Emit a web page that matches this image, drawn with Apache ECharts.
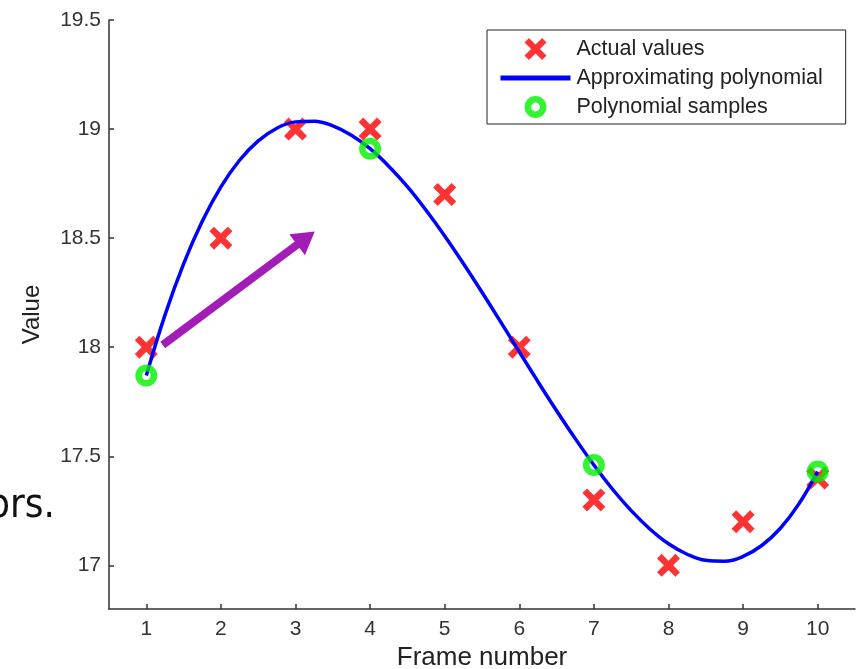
<!DOCTYPE html>
<html>
<head>
<meta charset="utf-8">
<script src="https://cdn.jsdelivr.net/npm/echarts@6/dist/echarts.min.js"></script>
<style>
  html, body { margin: 0; padding: 0; background: #fff; }
  #chart { width: 858px; height: 669px; }
</style>
</head>
<body>
<div id="chart"></div>
<script>
// frame numbers and actual values (red crosses)
var frames = [1, 2, 3, 4, 5, 6, 7, 8, 9, 10];
var actualValues = [18.0, 18.5, 19.0, 19.0, 18.7, 18.0, 17.3, 17.0, 17.2, 17.4];
// approximating polynomial, every quarter frame
var polyX = [1, 1.25, 1.5, 1.75, 2, 2.25, 2.5, 2.75, 3, 3.25, 3.5, 3.75, 4, 4.25, 4.5, 4.75, 5, 5.25, 5.5,
             5.75, 6, 6.25, 6.5, 6.75, 7, 7.25, 7.5, 7.75, 8, 8.25, 8.5, 8.75, 9, 9.25, 9.5, 9.75, 10];
var polyY = [17.870, 18.147, 18.382, 18.577, 18.735, 18.857, 18.946, 19.004, 19.033, 19.036, 19.015,
             18.972, 18.910, 18.830, 18.736, 18.628, 18.510, 18.384, 18.252, 18.116, 17.979, 17.842,
             17.709, 17.581, 17.460, 17.349, 17.251, 17.167, 17.099, 17.051, 17.023, 17.019, 17.041,
             17.091, 17.170, 17.283, 17.430];
// polynomial samples (green rings)
var sampleX = [1, 4, 7, 10];
var sampleY = [17.87, 18.91, 17.46, 17.43];
// tick labels
var xTicks = [1, 2, 3, 4, 5, 6, 7, 8, 9, 10];
var yTicks = [17, 17.5, 18, 18.5, 19, 19.5];
// purple arrow (data coords)
var arrowFrom = [1.22, 18.01];
var arrowTo = [3.14, 18.5];

var font = 'Liberation Sans';
var crossPath = 'path://M2,0 L5,3 L8,0 L10,2 L7,5 L10,8 L8,10 L5,7 L2,10 L0,8 L3,5 L0,2 Z';
var ringPath = 'path://M0,10 A10,10 0 1,1 20,10 A10,10 0 1,1 0,10 Z M6,10 A4,4 0 1,0 14,10 A4,4 0 1,0 6,10 Z';

function zip(a, b) {
    return a.map(function (v, i) { return [v, b[i]]; });
}

var chart = echarts.init(document.getElementById('chart'));
chart.setOption({
    animation: false,
    backgroundColor: '#fff',
    textStyle: { fontFamily: font },
    grid: { left: 109, right: 3, top: 20, bottom: 60, outerBoundsMode: 'none', containLabel: false },
    legend: {
        orient: 'vertical',
        left: 487,
        top: 30,
        padding: [8, 23, 6, 11],
        itemGap: 7,
        itemWidth: 70,
        itemHeight: 22,
        backgroundColor: '#fff',
        borderColor: '#222',
        borderWidth: 1,
        borderRadius: 0,
        lineStyle: { width: 5 },
        textStyle: { fontFamily: font, fontSize: 21.5, color: '#222', padding: [0, 0, 0, 1] },
        data: [
            'Actual values',
            { name: 'Approximating polynomial', itemStyle: { opacity: 0, color: 'transparent', borderWidth: 0 } },
            'Polynomial samples'
        ]
    },
    xAxis: {
        type: 'value',
        min: 0.5,
        max: 10.5,
        name: 'Frame number',
        nameLocation: 'middle',
        nameGap: 33,
        nameTextStyle: { fontFamily: font, fontSize: 26, color: '#222' },
        axisLine: { lineStyle: { color: '#333', width: 1.5 } },
        axisTick: { inside: true, length: 5, customValues: xTicks, lineStyle: { color: '#333', width: 1.5 } },
        axisLabel: { customValues: xTicks, margin: 10, fontSize: 21, color: '#333', fontFamily: font },
        splitLine: { show: false }
    },
    yAxis: {
        type: 'value',
        min: 16.8,
        max: 19.5,
        name: 'Value',
        nameLocation: 'middle',
        nameGap: 65,
        nameTextStyle: { fontFamily: font, fontSize: 24, color: '#222' },
        axisLine: { show: true, lineStyle: { color: '#333', width: 1.5 } },
        axisTick: { show: true, inside: true, length: 5, customValues: yTicks, lineStyle: { color: '#333', width: 1.5 } },
        axisLabel: { customValues: yTicks, margin: 8, fontSize: 21, color: '#333', fontFamily: font },
        splitLine: { show: false }
    },
    graphic: [{
        type: 'text',
        style: {
            text: 'ors.',
            x: 55,
            y: 507,
            align: 'right',
            verticalAlign: 'middle',
            font: '40px "DejaVu Sans Condensed", "Liberation Sans Narrow", "DejaVu Sans"',
            fill: '#111'
        }
    }],
    series: [
        {
            name: 'Actual values',
            type: 'scatter',
            symbol: crossPath,
            symbolSize: 23,
            itemStyle: { color: '#ff0000' },
            z: 2,
            data: zip(frames, actualValues)
        },
        {
            name: 'Approximating polynomial',
            type: 'line',
            smooth: 0.4,
            showSymbol: false,
            symbol: 'none',
            lineStyle: { color: '#0000ff', width: 3.5 },
            itemStyle: { color: '#0000ff' },
            z: 3,
            data: zip(polyX, polyY),
            markLine: {
                silent: true,
                symbol: ['none', 'triangle'],
                symbolSize: [26, 22],
                lineStyle: { color: '#a41cb8', width: 8, type: 'solid', cap: 'butt' },
                label: { show: false },
                emphasis: { disabled: true },
                data: [[{ coord: arrowFrom }, { coord: arrowTo }]]
            }
        },
        {
            name: 'Polynomial samples',
            type: 'scatter',
            symbol: ringPath,
            symbolSize: 22,
            itemStyle: { color: '#00f000' },
            z: 4,
            data: zip(sampleX, sampleY)
        }
    ]
});
</script>
</body>
</html>
